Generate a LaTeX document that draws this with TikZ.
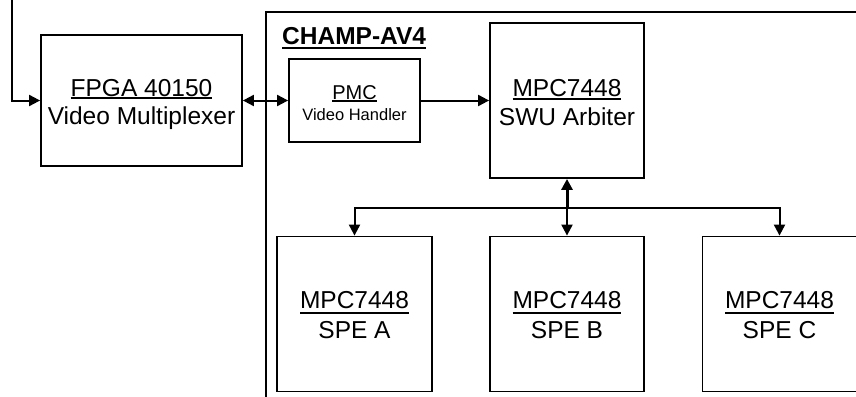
\documentclass[tikz,border=0pt]{standalone}
\usepackage{fontspec}
\setmainfont{Liberation Sans}
\usetikzlibrary{arrows.meta}
\newcommand\myul[2]{\setbox0\hbox{#2}\rlap{\rule[-#1]{\wd0}{2pt}}\box0}
\begin{document}
\begin{tikzpicture}[x=1pt,y=-1pt,
  >={Triangle[length=11pt,width=11pt]},
  box/.style={draw,line width=1.8pt,inner sep=0pt},
  conn/.style={line width=2pt},
  txt/.style={font=\fontsize{24.5}{29}\selectfont,anchor=base,inner sep=0pt},
  smalltxt/.style={font=\fontsize{16.5}{20}\selectfont,anchor=base,inner sep=0pt},
  midtxt/.style={font=\fontsize{20}{24}\selectfont,anchor=base,inner sep=0pt}]
\useasboundingbox (0,0) rectangle (856,396);

% frame of CHAMP-AV4
\coordinate (fr1) at (266,397);
\coordinate (fr2) at (266,12);
\coordinate (fr3) at (857,12);
\draw[line width=2.2pt] (fr1) -- (fr2) -- (fr3);
\node[font=\fontsize{24.5}{29}\selectfont\bfseries,anchor=base west,inner sep=0pt] (champ) at (282,45) {\myul{4pt}{CHAMP-AV4}};

% boxes
\node[box,minimum width=201pt,minimum height=131pt] (fpga) at (141.5,100.5) {};
\node[box,minimum width=131pt,minimum height=83pt] (pmc) at (354.5,100.5) {};
\node[box,minimum width=154pt,minimum height=155pt] (swu) at (567,100.5) {};
\node[box,minimum width=155pt,minimum height=155pt] (speA) at (354.5,314) {};
\node[box,minimum width=154pt,minimum height=155pt] (speB) at (567,314) {};
\node[box,minimum width=154pt,minimum height=155pt] (speC) at (779.5,314) {};

% texts
\node[txt] (fpgaL1) at (141.5,96) {\myul{3.3pt}{FPGA 40150}};
\node[txt] (fpgaL2) at (141.5,124.5) {Video Multiplexer};
\node[midtxt] (pmcL1) at (354.5,99) {\myul{3pt}{PMC}};
\node[smalltxt] (pmcL2) at (354.5,120) {Video Handler};
\node[txt] (swuL1) at (567,96.5) {\myul{3.5pt}{MPC7448}};
\node[txt] (swuL2) at (567,125) {SWU Arbiter};
\node[txt] (speAL1) at (354.5,308) {\myul{5.5pt}{MPC7448}};
\node[txt] (speAL2) at (354.5,338.5) {SPE A};
\node[txt] (speBL1) at (567,308) {\myul{5.5pt}{MPC7448}};
\node[txt] (speBL2) at (567,338.5) {SPE B};
\node[txt] (speCL1) at (779.5,308) {\myul{5.5pt}{MPC7448}};
\node[txt] (speCL2) at (779.5,338.5) {SPE C};

% connectors
\coordinate (in0) at (12,-1);
\draw[conn,->] (in0) |- (fpga.west);
\draw[conn,<->] (fpga.east) -- (pmc.west);
\draw[conn,->] (pmc.east) -- (swu.west);
\coordinate (bus) at (567,208);
\draw[conn,line width=3pt,->] (bus) -- (swu.south);
\draw[conn,->] (bus) -- (speB.north);
\draw[conn,->] (bus) -| (speA.north);
\draw[conn,->] (bus) -| (speC.north);
\end{tikzpicture}
\end{document}
